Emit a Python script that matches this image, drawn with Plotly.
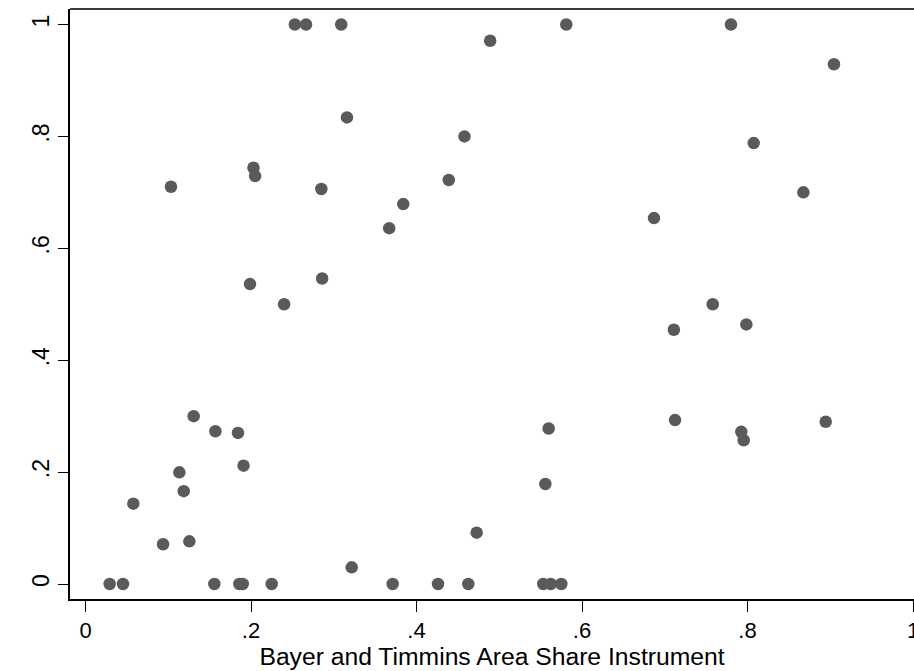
import plotly.graph_objects as go

# Data
area_share = [0.253, 0.2665, 0.309, 0.581, 0.780, 0.489, 0.9045, 0.316, 0.458, 0.8075,
              0.203, 0.205, 0.439, 0.1033, 0.285, 0.8675, 0.384, 0.687, 0.367, 0.286,
              0.1988, 0.240, 0.758, 0.7986, 0.711, 0.1307, 0.7124, 0.8945, 0.5597, 0.157,
              0.7925, 0.1843, 0.7954, 0.191, 0.1134, 0.5557, 0.1187, 0.0578, 0.4727, 0.1255,
              0.0937, 0.3217,
              0.0292, 0.0453, 0.1557, 0.1859, 0.190, 0.225, 0.3712, 0.426, 0.4626, 0.5532,
              0.5622, 0.575]
outcome = [1.0, 1.0, 1.0, 1.0, 1.0, 0.971, 0.929, 0.834, 0.800, 0.788,
           0.744, 0.729, 0.722, 0.710, 0.706, 0.700, 0.679, 0.654, 0.636, 0.546,
           0.536, 0.500, 0.500, 0.464, 0.4545, 0.300, 0.293, 0.290, 0.278, 0.273,
           0.272, 0.270, 0.257, 0.2115, 0.1996, 0.1787, 0.166, 0.1436, 0.0917, 0.0763,
           0.071, 0.0298,
           0.0, 0.0, 0.0, 0.0, 0.0, 0.0, 0.0, 0.0, 0.0, 0.0,
           0.0, 0.0]

tick_vals = [0, 0.2, 0.4, 0.6, 0.8, 1]
tick_text = ["0", ".2", ".4", ".6", ".8", "1"]
x_title = "Bayer and Timmins Area Share Instrument"

FONT = "Liberation Sans, Arial, sans-serif"

fig = go.Figure(go.Scatter(
    x=area_share, y=outcome, mode="markers",
    marker=dict(size=12.5, color="#5a5a5a", line=dict(width=0)),
    showlegend=False, cliponaxis=False,
))

fig.update_layout(
    width=914, height=671,
    margin=dict(l=70, r=0, t=9, b=72, autoexpand=False),
    paper_bgcolor="white", plot_bgcolor="white",
    font=dict(family=FONT, color="black"),
    shapes=[dict(type="line", xref="paper", yref="paper", x0=0, x1=1, y0=1, y1=1,
                 line=dict(color="#3c3c3c", width=2))],
)

fig.update_xaxes(
    range=[-0.01873, 1.0012], tickvals=tick_vals, ticktext=tick_text,
    showgrid=False, zeroline=False, showline=True, linecolor="black", linewidth=1.5,
    ticks="outside", ticklen=11, tickwidth=1.2, tickcolor="black",
    tickfont=dict(size=22, family=FONT), automargin=False, ticklabeloverflow="allow",
    title=dict(text=x_title, font=dict(size=24.7, family=FONT), standoff=0),
)
fig.update_yaxes(
    range=[-0.0268, 1.0277], tickvals=tick_vals, ticktext=tick_text,
    showgrid=False, zeroline=False, showline=True, linecolor="black", linewidth=1.5,
    ticks="outside", ticklen=10, tickwidth=1.2, tickcolor="black",
    tickangle=-90, tickfont=dict(size=23, family=FONT), automargin=False,
    ticklabeloverflow="allow",
)

fig.write_html(
    "out.html",
    config={"displayModeBar": False},
    post_script="document.body.style.margin='0';document.body.style.overflow='hidden';",
)
